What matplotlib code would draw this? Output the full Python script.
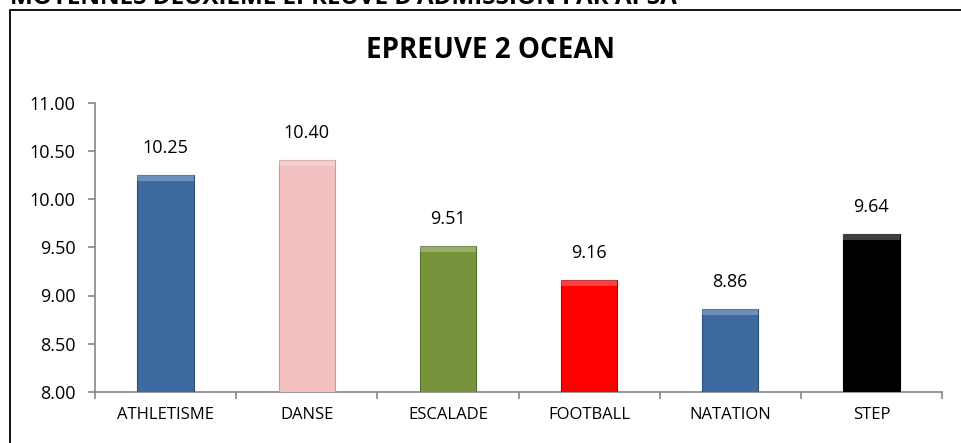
import numpy as np
import matplotlib.pyplot as plt
from matplotlib.patches import Rectangle

plt.rcParams['font.family'] = ['Open Sans', 'DejaVu Sans']

categories = ["ATHLETISME", "DANSE", "ESCALADE", "FOOTBALL", "NATATION", "STEP"]
values = [10.25, 10.40, 9.51, 9.16, 8.86, 9.64]
colors = ["#3e6aa0", "#f2c0c0", "#77933c", "#ff0000", "#3e6aa0", "#000000"]
edge_colors = ["#2c4f7c", "#c99a9a", "#55702a", "#b00000", "#2c4f7c", "#000000"]
yticks = [8.00, 8.50, 9.00, 9.50, 10.00, 10.50, 11.00]

W, H = 961, 443
fig = plt.figure(figsize=(W / 100, H / 100), dpi=100)

# chart frame (extends past the bottom / right of the picture)
fig.patches.append(Rectangle((10 / W, -0.1), 1.1, 1 - 10 / H + 0.1, transform=fig.transFigure,
                             fill=False, edgecolor="black", linewidth=1.3))

# page title above the frame, cut off by the top edge as in the original
fig.text(10 / W, 1 - 4 / H, "MOYENNES DEUXIEME EPREUVE D'ADMISSION PAR APSA",
         fontsize=17.5, fontweight="bold", va="baseline", ha="left")

fig.text(490 / W, 1 - 50 / H, "EPREUVE 2 OCEAN", fontsize=20, fontweight="bold",
         ha="center", va="center")

ax = fig.add_axes([95 / W, (H - 392) / H, (942 - 95) / W, (392 - 102.5) / H])
x = np.arange(len(categories))
bars = ax.bar(x, [v - 8 for v in values], bottom=8, width=0.4, color=colors,
              edgecolor=edge_colors, linewidth=0.8, zorder=3)

# light bevel on top of each bar
for b in bars:
    bx, bw = b.get_x(), b.get_width()
    top = b.get_y() + b.get_height()
    ax.add_patch(Rectangle((bx, top - 0.06), bw, 0.06, facecolor="white", alpha=0.25,
                           edgecolor="none", zorder=4))

for xi, v in zip(x, values):
    ax.annotate(f"{v:.2f}", (xi, v), xytext=(0, 13), textcoords="offset points",
                ha="center", va="bottom", fontsize=13)

ax.set_xlim(-0.5, len(categories) - 0.5)
ax.set_ylim(8, 11)
ax.set_yticks(yticks)
ax.set_yticklabels([f"{t:.2f}" for t in yticks], fontsize=13)
ax.set_xticks(x)
ax.set_xticklabels(categories, fontsize=12)
ax.set_xticks(np.arange(-0.5, len(categories)), minor=True)
ax.tick_params(axis="x", which="major", length=0, pad=11)
ax.tick_params(axis="x", which="minor", length=5, color="#868686", width=1.2)
ax.tick_params(axis="y", length=5, color="#868686", width=1.2, pad=9)

for s in ["top", "right"]:
    ax.spines[s].set_visible(False)
for s in ["left", "bottom"]:
    ax.spines[s].set_color("#868686")
    ax.spines[s].set_linewidth(1.2)

fig.savefig("out.png", dpi=100)
